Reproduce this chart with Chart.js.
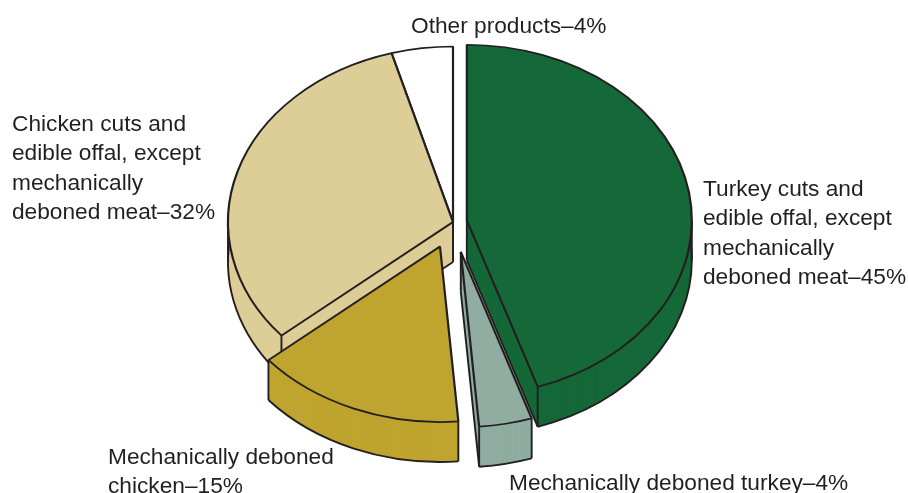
<!DOCTYPE html>
<html>
<head>
<meta charset="utf-8">
<style>
  html, body { margin: 0; padding: 0; background: #fff; }
  #wrap { width: 908px; height: 493px; }
</style>
<script src="https://cdn.jsdelivr.net/npm/chart.js@4/dist/chart.umd.min.js"></script>
</head>
<body>
<div id="wrap"><canvas id="pie" width="908" height="493"></canvas></div>
<script>
// ─── DATA ─────────────────────────────────────────────
const categories = [
  'Turkey cuts and edible offal, except mechanically deboned meat',
  'Mechanically deboned turkey',
  'Mechanically deboned chicken',
  'Chicken cuts and edible offal, except mechanically deboned meat',
  'Other products'
];
// slice sizes, they round to the printed labels
const shares = [44.9, 3.8, 15.1, 31.8, 4.4];
const sliceColors = ['#156838', '#8fada0', '#bfa42f', '#ddcd96', '#ffffff'];
const explode = [14, 39, 34, 0, 0];
// back to front
const drawOrder = [4, 3, 0, 2, 1];

const labelLines = [
  ['Other products–4%'],
  ['Chicken cuts and', 'edible offal, except', 'mechanically', 'deboned meat–32%'],
  ['Turkey cuts and', 'edible offal, except', 'mechanically', 'deboned meat–45%'],
  ['Mechanically deboned', 'chicken–15%'],
  ['Mechanically deboned turkey–4%']
];
const labelAnchors = [[411, 33], [12, 131], [703, 196], [108, 464], [509, 490]];

const SQUASH = 0.78;
const DEPTH = 40;
const LINE = '#231f20';

// draws the flat pie as a tilted disc with a rim
const tiltPlugin = {
  id: 'tilt',
  beforeDatasetDraw(chart) {
    const ctx = chart.ctx;
    const arcs = chart.getDatasetMeta(0).data;
    drawOrder.forEach(i => {
      const arc = arcs[i];
      const opts = arc.options;
      const cx = arc.x, cy = arc.y, R = arc.outerRadius;
      const start = arc.startAngle, end = arc.endAngle;
      const keepBorder = opts.borderWidth;
      const half = (start + end) / 2;
      const ax = cx + Math.cos(half) * explode[i];
      const ay = cy + Math.sin(half) * explode[i] * SQUASH;
      const edgeX = a => ax + Math.cos(a) * R;
      const edgeY = a => ay + Math.sin(a) * R * SQUASH;

      const place = dy => {
        ctx.translate(ax, ay + dy);
        ctx.scale(1, SQUASH);
        ctx.translate(-cx, -cy);
      };

      // rim body
      opts.borderWidth = 0;
      for (let d = DEPTH; d > 0; d -= 1) {
        ctx.save(); place(d); arc.draw(ctx); ctx.restore();
      }
      opts.borderWidth = keepBorder;

      // rim outline: bottom curve, downward facing cut edges and verticals
      ctx.save();
      ctx.strokeStyle = LINE;
      ctx.lineWidth = 1.9;
      ctx.lineJoin = 'round';
      ctx.beginPath();
      ctx.ellipse(ax, ay + DEPTH, R, R * SQUASH, 0, start, end);
      ctx.stroke();
      [[start, Math.cos(start) < -1e-6], [end, Math.cos(end) > 1e-6]].forEach(([a, seen]) => {
        if (!seen) return;
        ctx.beginPath();
        ctx.moveTo(ax, ay + DEPTH);
        ctx.lineTo(edgeX(a), edgeY(a) + DEPTH);
        ctx.stroke();
      });
      const rimAngles = [start, end].filter(a => Math.sin(a) > 0);
      if (start < 0 && end > 0) rimAngles.push(0);
      if (start < Math.PI && end > Math.PI) rimAngles.push(Math.PI);
      rimAngles.forEach(a => {
        ctx.beginPath();
        ctx.moveTo(edgeX(a), edgeY(a));
        ctx.lineTo(edgeX(a), edgeY(a) + DEPTH);
        ctx.stroke();
      });
      ctx.beginPath();
      ctx.moveTo(ax, ay);
      ctx.lineTo(ax, ay + DEPTH);
      ctx.stroke();
      ctx.restore();

      // top face
      ctx.save(); place(0); arc.draw(ctx); ctx.restore();
    });
    return false;
  },
  afterDraw(chart) {
    const ctx = chart.ctx;
    ctx.save();
    ctx.fillStyle = '#231f20';
    ctx.font = '22.7px "Liberation Sans"';
    ctx.textBaseline = 'alphabetic';
    labelLines.forEach((lines, i) => {
      lines.forEach((t, j) => ctx.fillText(t, labelAnchors[i][0], labelAnchors[i][1] + j * 29.4));
    });
    ctx.restore();
  }
};

new Chart(document.getElementById('pie'), {
  type: 'pie',
  data: {
    labels: categories,
    datasets: [{
      data: shares,
      backgroundColor: sliceColors,
      borderColor: LINE,
      borderWidth: 2.2,
      borderAlign: 'center',
      hoverOffset: 0,
      radius: 225
    }]
  },
  options: {
    responsive: false,
    animation: false,
    events: [],
    layout: { padding: { bottom: 49, right: 2 } },
    plugins: { legend: { display: false }, tooltip: { enabled: false } }
  },
  plugins: [tiltPlugin]
});
</script>
</body>
</html>
